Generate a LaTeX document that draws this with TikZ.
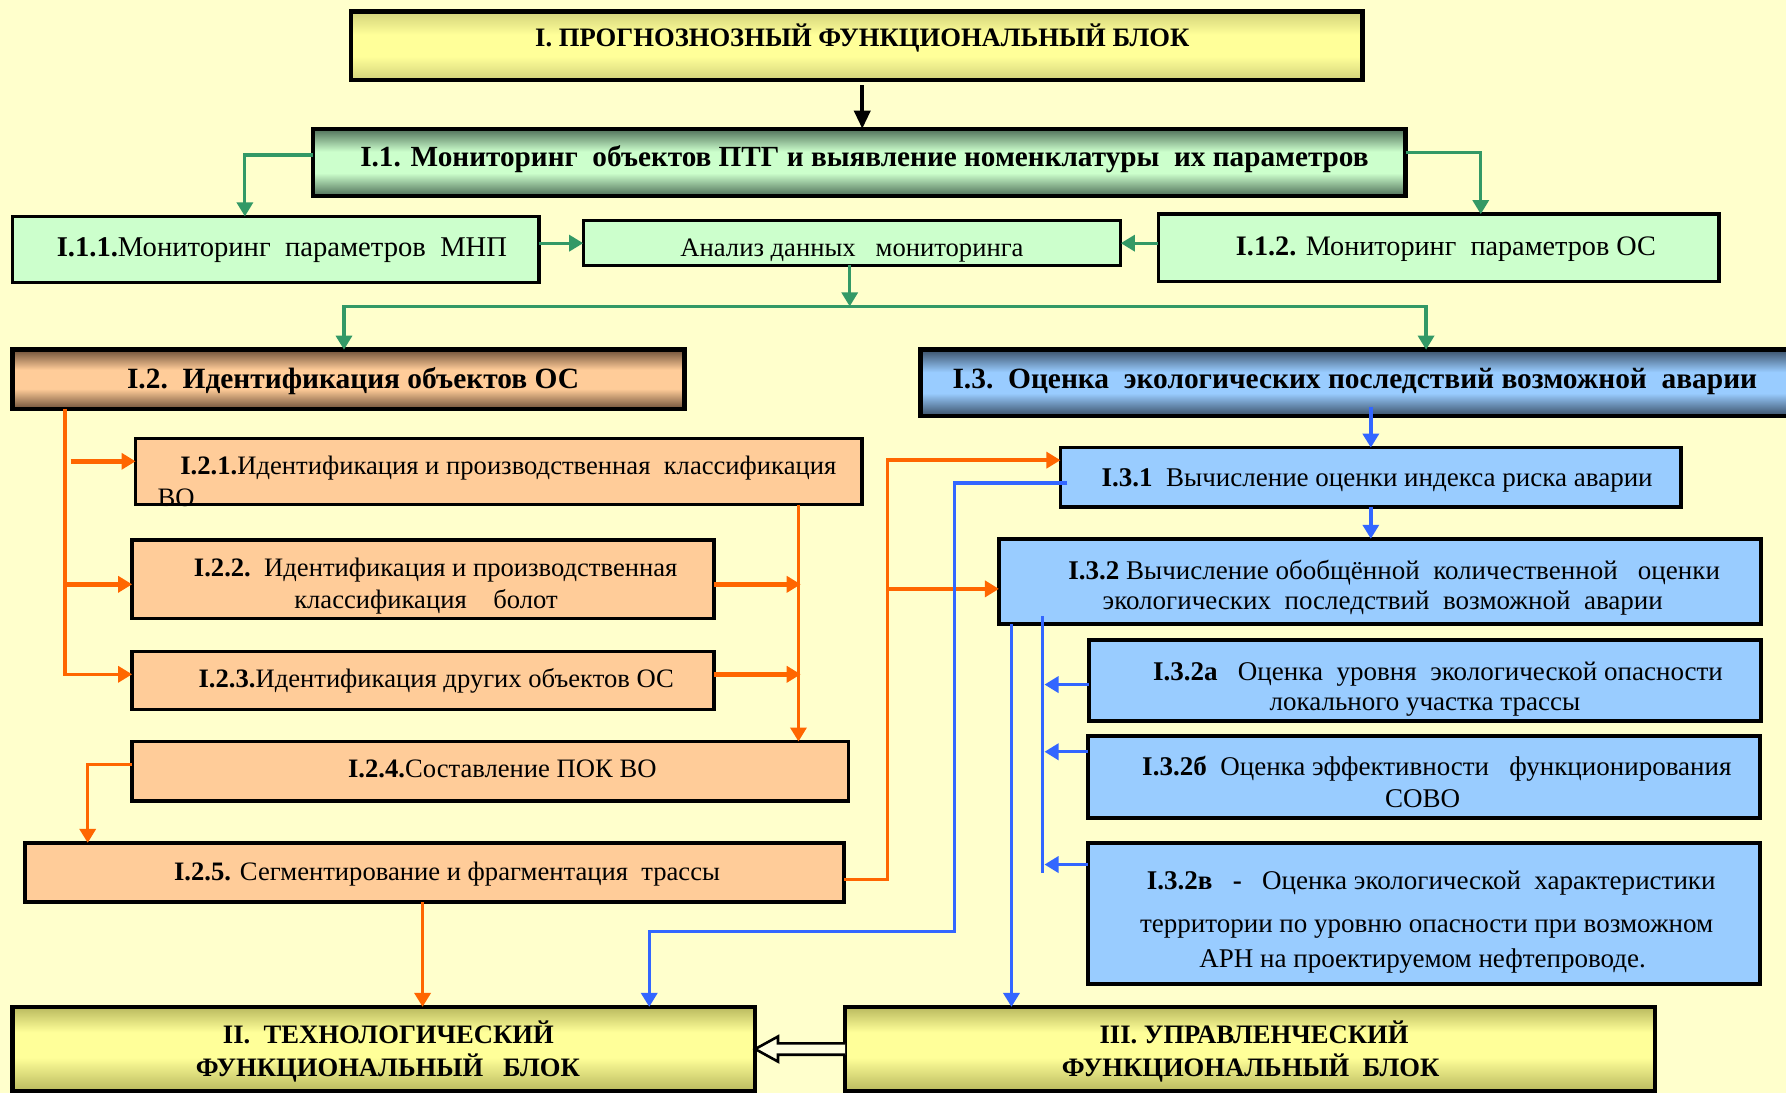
\documentclass[tikz,border=0pt]{standalone}
\usepackage{fontspec}
\setmainfont{Liberation Serif}
\usetikzlibrary{arrows.meta,calc,fit}

\definecolor{bg}{HTML}{FFFFCC}
\definecolor{lgreen}{HTML}{CCFFCC}
\definecolor{dgreen}{HTML}{4E6E58}
\definecolor{peach}{HTML}{FFCC99}
\definecolor{dbrown}{HTML}{6E5038}
\definecolor{lblue}{HTML}{99CCFF}
\definecolor{dblue}{HTML}{3A5068}
\definecolor{lyel}{HTML}{FFFF99}
\definecolor{dyel}{HTML}{D2D27A}
\definecolor{oyel}{HTML}{B9B95E}
\definecolor{gline}{HTML}{339966}
\definecolor{oline}{HTML}{FF6600}
\definecolor{bline}{HTML}{3366FF}

\pgfdeclareverticalshading{yelshade}{100bp}{color(0bp)=(dyel); color(25bp)=(dyel); color(42bp)=(lyel); color(58bp)=(lyel); color(75bp)=(dyel); color(100bp)=(dyel)}
\pgfdeclareverticalshading{grnshade}{100bp}{color(0bp)=(dgreen); color(25bp)=(dgreen); color(42bp)=(lgreen); color(58bp)=(lgreen); color(75bp)=(dgreen); color(100bp)=(dgreen)}
\pgfdeclareverticalshading{brnshade}{100bp}{color(0bp)=(dbrown); color(25bp)=(dbrown); color(42bp)=(peach); color(58bp)=(peach); color(75bp)=(dbrown); color(100bp)=(dbrown)}
\pgfdeclareverticalshading{blushade}{100bp}{color(0bp)=(dblue); color(25bp)=(dblue); color(42bp)=(lblue); color(58bp)=(lblue); color(75bp)=(dblue); color(100bp)=(dblue)}
\pgfdeclareverticalshading{oliveshade}{100bp}{color(0bp)=(oyel); color(25bp)=(oyel); color(45bp)=(lyel); color(60bp)=(lyel); color(75bp)=(oyel); color(100bp)=(oyel)}

\tikzset{
  box/.style={draw=black, line width=1.8pt, inner sep=0pt, outer sep=0pt},
  mainbox/.style={box, line width=2.2pt},
  lbl/.style={inner sep=0pt, anchor=base, font=\fontsize{13.3}{15}\selectfont},
  lblm/.style={lbl, font=\fontsize{13.5}{15}\selectfont},
  hlbl/.style={lbl, font=\fontsize{14.7}{17}\selectfont\bfseries},
  blbl/.style={lbl, font=\fontsize{13.3}{15}\selectfont\bfseries},
  tip/.style={-{Triangle[length=7pt,width=8pt]}},
  garrow/.style={tip, draw=gline, line width=1.6pt},
  oarrow/.style={tip, draw=oline, line width=1.7pt},
  owide/.style={oarrow, line width=2.2pt},
  barrow/.style={tip, draw=bline, line width=1.7pt},
  bbus/.style={draw=bline, line width=1.7pt},
  karrow/.style={-{Triangle[length=9pt,width=8pt]}, draw=black, line width=1.8pt},
  hollow/.style={draw=black, line width=1.3pt, fill=white!40!bg, line join=miter}
}

\begin{document}
\begin{tikzpicture}[x=0.2mm, y=-0.2mm]
\fill[bg] (0,0) rectangle (1568,960);
\useasboundingbox (0,0) rectangle (1568,960);

% ---------- boxes ----------
\node[mainbox, shading=yelshade, fit={(308,10) (1196,70)}] (bI) {};
\node[mainbox, shading=grnshade, fit={(275,113) (1234,172)}] (b11) {};
\node[box, fill=lgreen, fit={(11,190) (473,248)}] (b111) {};
\node[box, fill=lgreen, line width=1.5pt, fit={(512,194) (984,233)}] (ban) {};
\node[box, fill=lgreen, fit={(1017,188) (1509,247)}] (b112) {};
\node[mainbox, shading=brnshade, fit={(11,307) (601,359)}] (b12) {};
\node[mainbox, shading=blushade, fit={(808,307) (1585,365)}] (b13) {};
\node[box, fill=peach, fit={(119,385) (757,443)}] (b121) {};
\node[box, fill=peach, fit={(116,474) (627,543)}] (b122) {};
\node[box, fill=peach, fit={(116,572) (627,623)}] (b123) {};
\node[box, fill=peach, fit={(116,651) (745,703)}] (b124) {};
\node[box, fill=peach, fit={(22,740) (741,792)}] (b125) {};
\node[box, fill=lblue, fit={(931,393) (1476,445)}] (b131) {};
\node[box, fill=lblue, fit={(877,473) (1546,548)}] (b132) {};
\node[box, fill=lblue, fit={(956,562) (1546,633)}] (b32a) {};
\node[box, fill=lblue, fit={(955,646) (1545,718)}] (b32b) {};
\node[box, fill=lblue, fit={(955,740) (1545,864)}] (b32c) {};
\node[mainbox, shading=oliveshade, fit={(11,884) (663,958)}] (b2) {};
\node[mainbox, shading=oliveshade, fit={(742,884) (1453,958)}] (b3) {};

% ---------- texts ----------
\node[blbl] (tI) at (757,41) {I. ПРОГНОЗНОЗНЫЙ ФУНКЦИОНАЛЬНЫЙ БЛОК};
\node[hlbl, font=\fontsize{14.6}{17}\selectfont\bfseries] (t11) at (759,146.5) {I.1. Мониторинг\ \ объектов ПТГ и выявление номенклатуры\ \ их параметров};
\node[lbl, font=\fontsize{14.3}{17}\selectfont] (t111) at (247.5,225.5) {\textbf{I.1.1.}Мониторинг\ \ параметров\ \ МНП};
\node[lbl] (tan) at (748,225) {Анализ данных\ \ \ мониторинга};
\node[lbl, font=\fontsize{14.1}{17}\selectfont] (t112) at (1269.5,224) {\textbf{I.1.2.} Мониторинг\ \ параметров ОС};
\node[hlbl] (t12) at (310,341) {I.2.\ \ Идентификация объектов ОС};
\node[hlbl] (t13) at (1189.5,341) {I.3.\ \ Оценка\ \ экологических последствий возможной\ \ аварии};

\node[lbl, anchor=base west] (t121a) at (158,417) {\textbf{I.2.1.}Идентификация и производственная\ \ классификация};
\node[lbl, anchor=base west] (t121b) at (138,445) {ВО};
\draw[line width=1.8pt] (b121.south west) -- (b121.south east);
\node[lbl] (t122a) at (382.5,506) {\textbf{I.2.2.}\ \ Идентификация и производственная};
\node[lbl] (t122b) at (374,534) {классификация\ \ \ \ болот};
\node[lbl] (t123) at (383,604) {\textbf{I.2.3.}Идентификация других объектов ОС};
\node[lbl] (t124) at (441,683) {\textbf{I.2.4.}Составление ПОК ВО};
\node[lbl] (t125) at (392.5,773) {\textbf{I.2.5.} Сегментирование и фрагментация\ \ трассы};

\node[lblm] (t131) at (1209,427.5) {\textbf{I.3.1}\ \ Вычисление оценки индекса риска аварии};
\node[lblm] (t132a) at (1224,508.5) {\textbf{I.3.2}\ Вычисление обобщённой\ \ количественной\ \ \ оценки};
\node[lblm] (t132b) at (1214,535.5) {экологических\ \ последствий\ \ возможной\ \ аварии};
\node[lblm] (t32a1) at (1262.5,597) {\textbf{I.3.2а}\ \ \ Оценка\ \ уровня\ \ экологической опасности};
\node[lblm] (t32a2) at (1251,623.5) {локального участка трассы};
\node[lblm] (t32b1) at (1261.5,680.5) {\textbf{I.3.2б}\ \ Оценка эффективности\ \ \ функционирования};
\node[lblm] (t32b2) at (1249,709) {СОВО};
\node[lblm] (t32c1) at (1256.5,780.5) {\textbf{I.3.2в}\ \ \ \textbf{-}\ \ \ Оценка экологической\ \ характеристики};
\node[lblm] (t32c2) at (1252.5,819) {территории по уровню опасности при возможном};
\node[lblm] (t32c3) at (1249,849) {АРН на проектируемом нефтепроводе.};

\node[blbl] (t2a) at (341,916) {II.\ \ ТЕХНОЛОГИЧЕСКИЙ};
\node[blbl] (t2b) at (340.5,945.5) {ФУНКЦИОНАЛЬНЫЙ\ \ \ БЛОК};
\node[blbl] (t3a) at (1101,916) {III. УПРАВЛЕНЧЕСКИЙ};
\node[blbl] (t3b) at (1098,945.5) {ФУНКЦИОНАЛЬНЫЙ\ \ БЛОК};

% ---------- connectors: block I ----------
\draw[karrow] ($(bI.south)+(5,5)$) -- ($(bI.south |- b11.north)+(5,0)$);
\draw[garrow] ($(b11.west)+(0,-6.5)$) -| ($(b111.north west)+(204,0)$);
\draw[garrow] ($(b11.east)+(0,-8.5)$) -| ($(b112.north west)+(283,0)$);
\draw[garrow] (b111.east |- ban.west) -- (ban.west);
\draw[garrow] (b112.west |- ban.east) -- (ban.east);
\coordinate (split) at ($(ban.south)+(-2,36)$);
\draw[garrow] ($(ban.south)+(-2,0)$) -- (split);
\draw[garrow] (split) -| ($(b12.north west)+(291,0)$);
\draw[garrow] (split) -| ($(b13.north west)+(444,0)$);

% ---------- connectors: block I.2 ----------
\draw[oarrow] ($(b12.south west)+(46,0)$) |- ($(b123.west)+(0,-5.5)$);
\draw[owide] ($(b122.west)+(-59,4.5)$) -- ($(b122.west)+(0,4.5)$);
\draw[owide] ($(b121.west)+(-57,-9)$) -- ($(b121.west)+(0,-9)$);
\draw[oarrow] ($(b121.south west)+(582,0)$) -- ($(b124.north west)+(585,0)$);
\draw[owide] ($(b122.east)+(0,4.5)$) -- ($(b122.east)+(76,4.5)$);
\draw[owide] ($(b123.east)+(0,-5.5)$) -- ($(b123.east)+(76,-5.5)$);
\draw[oarrow] ($(b124.west)+(0,-6)$) -| ($(b125.north west)+(55,0)$);
\draw[oarrow] ($(b125.east)+(0,6)$) -- ++(38,0) |- ($(b131.west)+(0,-15)$);
\draw[owide] ($(b132.west)+(-98,6.5)$) -- ($(b132.west)+(0,6.5)$);
\draw[oarrow] ($(b125.south)+(-10.5,0)$) -- ($(b2.north west)+(360,0)$);

% ---------- connectors: block I.3 ----------
\draw[barrow] ($(b131.north |- b13.south)+(0,-8)$) -- (b131.north);
\draw[barrow] (b131.south) -- (b131.south |- b132.north);
\draw[barrow] ($(b131.west)+(6,5)$) -- ++(-99,0) |- ($(b2.north west)+(559,-66)$) -- ($(b2.north west)+(559,0)$);
\draw[barrow] ($(b132.south west)+(11,0)$) -- ($(b3.north west)+(146,0)$);
\draw[bbus] ($(b132.south west)+(38,-7)$) -- ($(b132.south west)+(38,218)$);
\draw[barrow] ($(b32a.west)+(0,3.5)$) -- ++(-39,0);
\draw[barrow] ($(b32b.west)+(0,-22)$) -- ++(-38,0);
\draw[barrow] ($(b32c.west)+(0,-43)$) -- ++(-38,0);

% ---------- hollow arrow III -> II ----------
\draw[hollow] ($(b3.west)+(0,-5)$) -- ($(b2.east)+(20,-5)$) -- ($(b2.east)+(20,-11)$)
  -- (b2.east) -- ($(b2.east)+(20,11)$) -- ($(b2.east)+(20,5)$) -- ($(b3.west)+(0,5)$);
\end{tikzpicture}
\end{document}
